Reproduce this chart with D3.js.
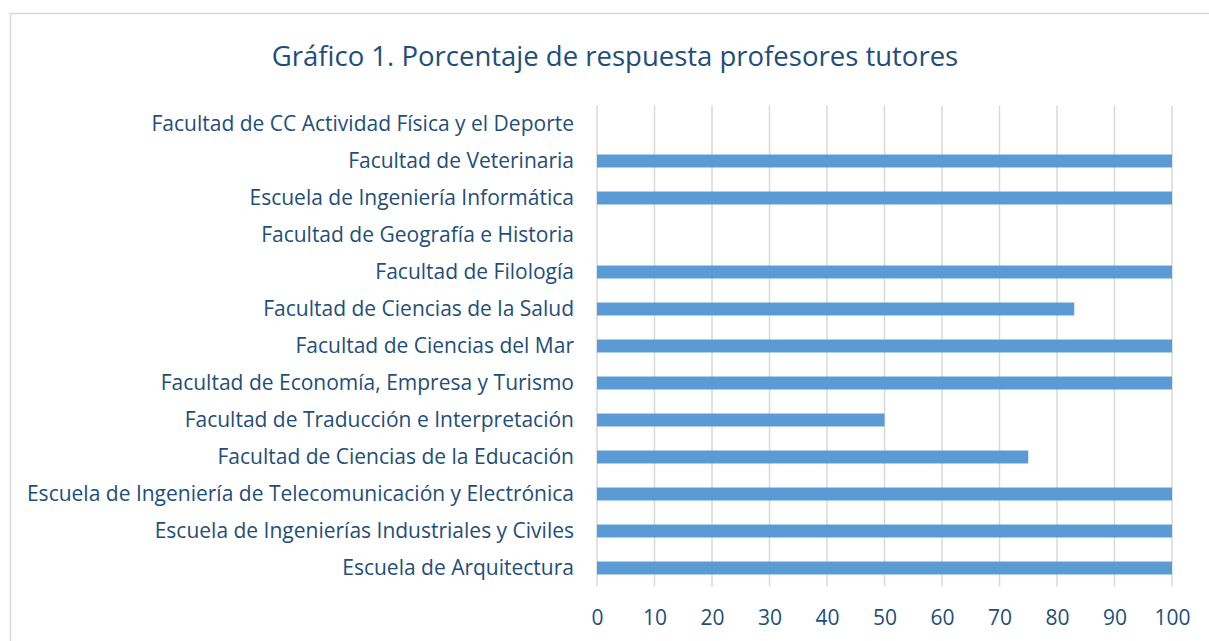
<!DOCTYPE html>
<html>
<head>
<meta charset="utf-8">
<script src="https://cdn.jsdelivr.net/npm/d3@7"></script>
<style>
  body { margin: 0; background: #fff; }
  svg text { font-family: "Open Sans", Lato, sans-serif; fill: #1f4e79; }
</style>
</head>
<body>
<svg></svg>
<script>
'use strict';
// categories from top to bottom, as in the picture
var categories = [
  'Facultad de CC Actividad Física y el Deporte',
  'Facultad de Veterinaria',
  'Escuela de Ingeniería Informática',
  'Facultad de Geografía e Historia',
  'Facultad de Filología',
  'Facultad de Ciencias de la Salud',
  'Facultad de Ciencias del Mar',
  'Facultad de Economía, Empresa y Turismo',
  'Facultad de Traducción e Interpretación',
  'Facultad de Ciencias de la Educación',
  'Escuela de Ingeniería de Telecomunicación y Electrónica',
  'Escuela de Ingenierías Industriales y Civiles',
  'Escuela de Arquitectura'
];
var values = [0, 100, 100, 0, 100, 83, 100, 100, 50, 75, 100, 100, 100];
var ticks = [0, 10, 20, 30, 40, 50, 60, 70, 80, 90, 100];
var title = 'Gráfico 1. Porcentaje de respuesta profesores tutores';

var canvasWidth = 1209;
var canvasHeight = 641;
var margin = { top: 105.5, right: 37, bottom: 54.5, left: 597 };
var width = canvasWidth - margin.left - margin.right;
var height = canvasHeight - margin.top - margin.bottom;

var svg = d3.select('svg')
  .attr('width', canvasWidth)
  .attr('height', canvasHeight);

// chart border
svg.append('rect')
  .attr('x', 10.5).attr('y', 13.5)
  .attr('width', 1210).attr('height', 640)
  .attr('fill', 'none')
  .attr('stroke', '#d9d9d9')
  .attr('stroke-width', 1.5);

svg.append('text')
  .attr('x', 615).attr('y', 66)
  .attr('text-anchor', 'middle')
  .style('font-size', '27.5px')
  .text(title);

var g = svg.append('g')
  .attr('transform', 'translate(' + margin.left + ',' + margin.top + ')');

var xScale = d3.scaleLinear().domain([0, 100]).range([0, width]);
var yScale = d3.scaleBand().domain(categories).range([0, height]).paddingInner(0.65).paddingOuter(0.325);

// gridlines
g.selectAll('line.grid').data(ticks).enter().append('line')
  .attr('class', 'grid')
  .attr('x1', function(d) { return xScale(d); })
  .attr('x2', function(d) { return xScale(d); })
  .attr('y1', 0).attr('y2', height)
  .attr('stroke', '#d9d9d9')
  .attr('stroke-width', 1.5);

g.selectAll('rect.bar').data(values).enter().append('rect')
  .attr('class', 'bar')
  .attr('x', xScale(0))
  .attr('y', function(d, i) { return yScale(categories[i]); })
  .attr('width', function(d) { return xScale(d) - xScale(0); })
  .attr('height', yScale.bandwidth())
  .attr('fill', '#5b9bd5');

// x axis
var xAxis = g.append('g')
  .attr('transform', 'translate(0,' + height + ')')
  .call(d3.axisBottom(xScale).tickValues(ticks).tickSize(0).tickPadding(24));
xAxis.select('.domain').remove();
xAxis.selectAll('text').style('font-size', '21px');

// y axis
var yAxis = g.append('g')
  .call(d3.axisLeft(yScale).tickSize(0).tickPadding(23));
yAxis.select('.domain').remove();
yAxis.selectAll('text').style('font-size', '21px');
</script>
</body>
</html>
